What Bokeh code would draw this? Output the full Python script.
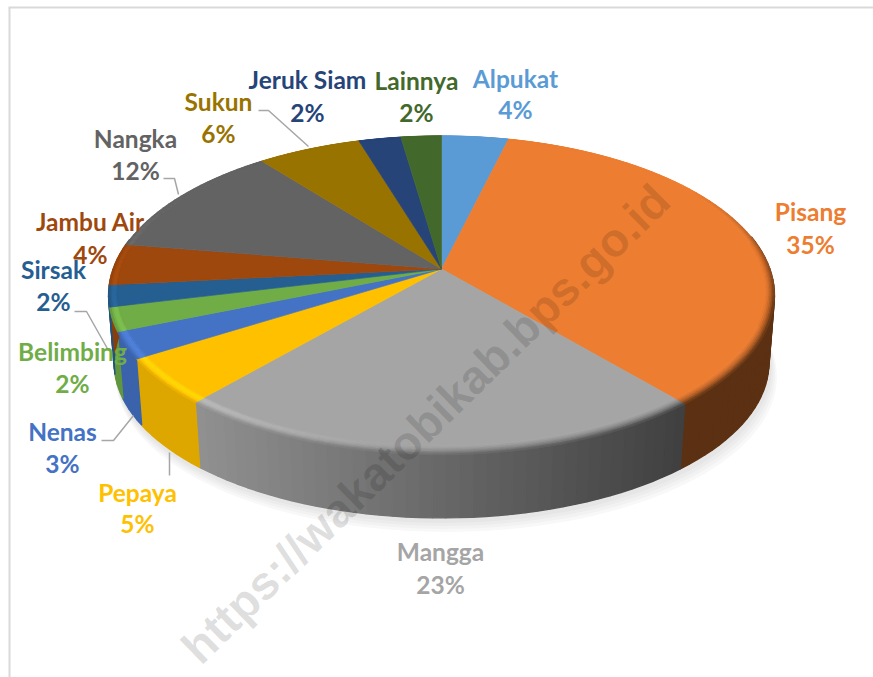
import math
from bokeh.plotting import figure
from bokeh.models import Range1d, ColumnDataSource
from bokeh.core.properties import value
from bokeh.embed import file_html
from bokeh.resources import INLINE

categories = ["Alpukat", "Pisang", "Mangga", "Pepaya", "Nenas", "Belimbing", "Sirsak",
              "Jambu Air", "Nangka", "Sukun", "Jeruk Siam", "Lainnya"]
shares = [3.8, 35.0, 22.6, 4.7, 2.7, 2.4, 2.2, 4.2, 11.8, 5.9, 2.4, 2.3]
colors = ["#5B9BD5", "#ED7D31", "#A5A5A5", "#FFC000", "#4472C4", "#70AD47", "#255E91",
          "#9E480E", "#636363", "#997300", "#264478", "#43682B"]
watermark = "https://wakatobikab.bps.go.id"

# label layout (page pixels): name line centre x, y ; percent line y
label_layout = [(515, 77.5, 109), (810, 210.5, 244), (440, 550.5, 584), (137, 491.5, 523),
                (62, 430.5, 463), (72, 350.5, 383), (53, 268.5, 301), (90, 220.5, 254),
                (135, 137.5, 170), (218, 100.5, 133), (307, 78.5, 112), (416, 79.5, 112)]
leaders = [[(258, 110), (268, 110), (308, 146)],
           [(163, 178), (174, 178), (178, 194)],
           [(74, 311), (86, 311), (108, 350)],
           [(101, 440), (113, 440), (133, 415)],
           [(169, 452), (169, 475)]]

# projected-disc geometry: half width factor, depth factor, perspective, apex y
FLAT = (320.6, 151.2, 0.1447, 268.5)
RIM = (328.4, 155.1, 0.165, 268.5)
LOW = (323.0, 150.9, 0.1635, 337)
CX = 441


def proj(theta, g):
    A, B, k, y0 = g
    u, v = math.sin(theta), math.cos(theta)
    w = 1 + k * v
    return CX + A * u / w, y0 - B * v / w


def hex2rgb(c):
    return [int(c[i:i + 2], 16) for i in (1, 3, 5)]


def rgb2hex(c):
    return "#%02x%02x%02x" % tuple(max(0, min(255, int(round(x)))) for x in c)


def shade(x):
    return max(0.39, min(0.87, 0.87 - (x - 200) * 0.001))


p = figure(width=873, height=677, x_range=Range1d(0, 873), y_range=Range1d(677, 0),
           output_backend="svg", toolbar_location=None, min_border=0,
           background_fill_color="white", border_fill_color="white", outline_line_color=None)
p.axis.visible = False
p.grid.visible = False

# frame
p.line([9, 9], [7, 677], line_color="#d9d9d9", line_width=2)
p.line([8, 873], [7, 7], line_color="#d9d9d9", line_width=2)

# soft shadow below the disc
circle = [2 * math.pi * i / 240 for i in range(240)]
for off, col in [(14, "#f8f8f8"), (11, "#f2f2f2"), (8, "#ececec"), (5, "#e6e6e6")]:
    pts = [proj(t, LOW) for t in circle]
    p.patch([CX + (x - CX) * (1 + off / 1500) + off * 0.35 for x, y in pts],
            [y + off for x, y in pts], fill_color=col, line_color=None)

side, bevel, flat = ([], [], []), ([], [], []), ([], [], [])


def add(store, xs, ys, col):
    store[0].append(xs)
    store[1].append(ys)
    store[2].append(col)


start = 0.0
total = sum(shares)
RINGS = 6
for share, col in zip(shares, colors):
    span = share / total * 2 * math.pi
    n = max(2, int(math.ceil(span / math.radians(2))))
    ang = [start + span * i / n for i in range(n + 1)]
    base = hex2rgb(col)
    fl = [proj(t, FLAT) for t in ang]
    add(flat, [CX] + [a for a, b in fl], [268.5] + [b for a, b in fl], col)
    for a0, a1 in zip(ang[:-1], ang[1:]):
        mid = (a0 + a1) / 2
        mx = proj(mid, RIM)[0]
        f = shade(mx)
        dark = [c * f for c in base]
        if math.cos(mid) < 0.2:
            r0, r1, l0, l1 = proj(a0, RIM), proj(a1, RIM), proj(a0, LOW), proj(a1, LOW)
            add(side, [r0[0], r1[0], l1[0], l0[0]], [r0[1], r1[1], l1[1], l0[1]], rgb2hex(dark))
        weight = max(0.0, min(1.0, (0.55 - math.cos(mid)) / 0.8))
        hl = max(0.0, min(1.0, (430 - mx) / 230)) * weight
        for j in range(RINGS):
            t0, t1 = j / RINGS, (j + 1) / RINGS
            t = (t0 + t1) / 2
            a = proj(a0, FLAT), proj(a1, FLAT)
            b = proj(a0, RIM), proj(a1, RIM)
            q = [(a[i][0] + (b[i][0] - a[i][0]) * s, a[i][1] + (b[i][1] - a[i][1]) * s)
                 for i, s in ((0, t0), (1, t0), (1, t1), (0, t1))]
            mix = weight * t ** 1.6
            boost = 1 + 0.16 * hl * math.sin(math.pi * t)
            c = [(bb + (d - bb) * mix) * boost for bb, d in zip(base, dark)]
            add(bevel, [v[0] for v in q], [v[1] for v in q], rgb2hex(c))
    start += span

for store, lw in ((side, 1.4), (bevel, 0.8), (flat, 0.7)):
    src = ColumnDataSource(dict(xs=store[0], ys=store[1], c=store[2]))
    p.patches("xs", "ys", source=src, fill_color="c", line_color="c", line_width=lw)

# leader lines
for seg in leaders:
    p.line([a for a, b in seg], [b for a, b in seg], line_color="#a6a6a6", line_width=1.5)

# labels
names = ColumnDataSource(dict(x=[l[0] for l in label_layout], y=[l[1] for l in label_layout],
                              t=categories, c=colors))
pcts = ColumnDataSource(dict(x=[l[0] for l in label_layout], y=[l[2] for l in label_layout],
                             t=[f"{round(s)}%" for s in shares], c=colors))
for src in (names, pcts):
    p.text("x", "y", text="t", source=src, text_color="c", text_font=value("Lato"),
           text_font_style="bold", text_font_size="24.5px", text_align="center",
           text_baseline="middle")

# watermark
p.text([425], [423], text=[watermark], angle=44.4, angle_units="deg",
       text_color="#000000", text_alpha=0.13, text_font=value("Liberation Sans"),
       text_font_style="bold", text_font_size="47px", text_align="center", text_baseline="middle")

open("out.html", "w").write(file_html(p, INLINE))
